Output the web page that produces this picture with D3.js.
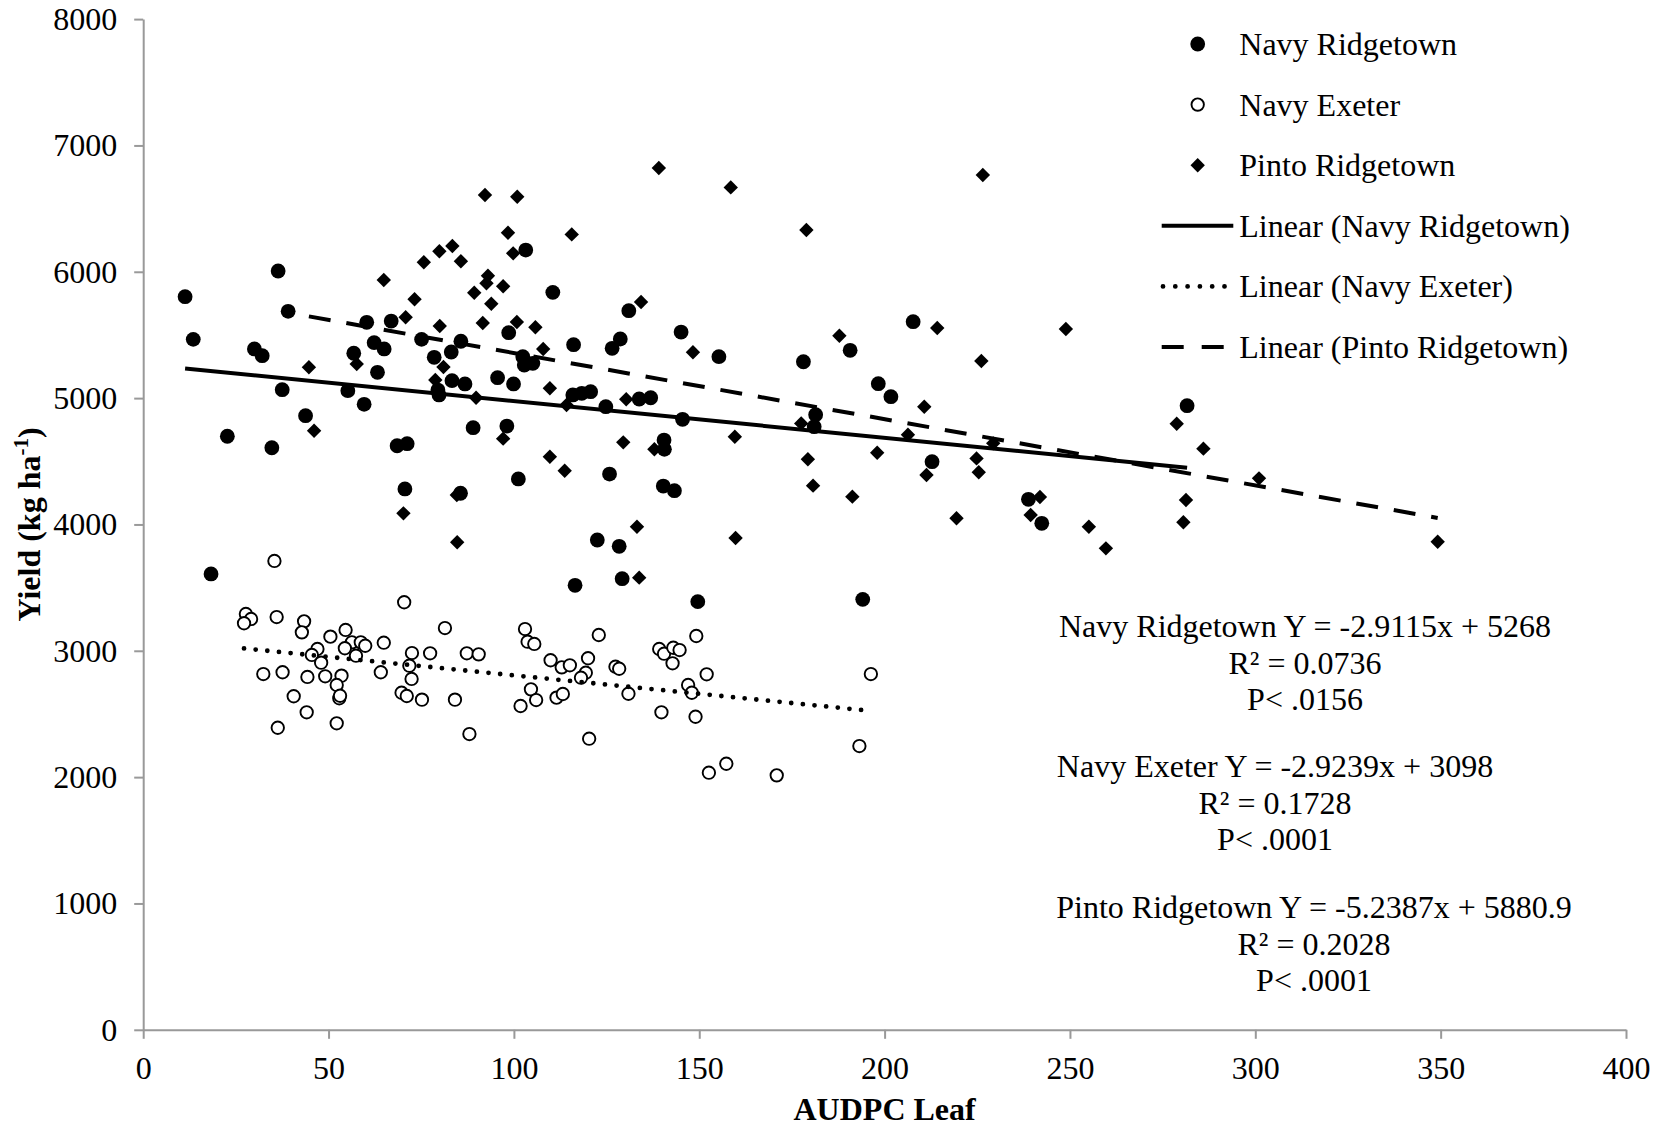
<!DOCTYPE html>
<html><head><meta charset="utf-8">
<script src="https://cdn.jsdelivr.net/npm/d3@7"></script>
<style>body{margin:0;background:#fff}svg{display:block}</style>
</head><body>
<svg id="chart" width="1663" height="1128"></svg>
<script>
// ---------- DATA ----------
const navyRidgetown = [
[11.3,5803],[13.5,5465],[36.4,6006],[39.1,5687],[30.0,5389],[32.1,5336],[37.5,5067],[22.7,4698],[34.7,4607],[43.8,4861],
[55.2,5059],[59.6,4951],[56.8,5355],[63.2,5204],[60.3,5600],[66.9,5610],[62.3,5439],[65.0,5389],[68.5,4623],[71.2,4639],
[75.1,5465],[78.5,5323],[83.1,5365],[85.7,5450],[79.5,5064],[79.8,5025],[83.3,5138],[86.8,5112],[89.0,4766],[95.6,5162],
[99.9,5112],[98.1,4779],[98.6,5518],[103.2,6172],[102.4,5328],[105.1,5275],[102.8,5262],[110.5,5837],
[70.6,4281],[85.6,4247],[101.2,4360],[18.3,3608],
[131.0,5692],[116.1,5423],[126.5,5394],[128.7,5468],[145.1,5523],[155.3,5328],[207.7,5605],[178.1,5288],[190.7,5378],
[198.3,5114],[201.7,5011],[115.9,5025],[118.3,5038],[120.7,5051],[124.8,4932],[133.8,4993],[136.9,5003],[145.5,4832],
[181.4,4869],[181.0,4774],[212.8,4497],[140.5,4668],[140.6,4595],
[125.8,4399],[140.3,4304],[143.3,4267],[122.5,3877],[128.4,3827],[116.5,3518],[129.2,3571],[149.6,3389],[194.1,3407],
[281.6,4940],[238.8,4199],[242.4,4009]
];
const navyExeter = [
[35.4,3711],[70.4,3384],[27.7,3291],[29.1,3252],[27.2,3218],[36.0,3267],[43.4,3233],[42.8,3146],[50.5,3112],[54.6,3165],
[47.0,3014],[45.5,2967],[56.3,3067],[54.4,3020],[58.7,3067],[59.9,3040],[57.4,2961],[64.9,3064],[48.0,2906],[32.4,2816],
[37.6,2830],[44.3,2793],[49.1,2798],[53.5,2803],[52.2,2729],[52.9,2624],[53.1,2644],[40.6,2640],[44.1,2513],[36.3,2391],
[52.2,2426],[64.1,2830],[72.5,2982],[71.8,2882],[72.4,2777],[69.7,2668],[71.1,2642],[75.2,2613],[77.4,2980],[81.4,3180],
[84.1,2613],[88.0,2341],[87.3,2980],[90.5,2972],[103.0,3172],[103.7,3072],[105.5,3054],[109.9,2925],[104.6,2695],
[106.0,2610],[101.8,2563],[111.5,2629],
[122.9,3125],[149.2,3117],[139.2,3014],[140.5,2977],[143.0,3024],[144.7,3006],[142.8,2901],[112.9,2869],[115.1,2885],
[120.0,2941],[119.4,2826],[118.1,2787],[127.4,2874],[128.4,2858],[152.0,2814],[196.3,2816],[130.9,2660],[147.0,2729],
[148.0,2668],[113.2,2658],[139.8,2513],[149.0,2478],[120.3,2304],[193.2,2246],[152.6,2035],[157.3,2106],[170.9,2014]
];
const pintoRidgetown = [
[92.2,6608],[100.9,6594],[98.4,6309],[99.8,6146],[83.4,6204],[79.9,6162],[75.7,6075],[85.7,6083],[64.9,5935],[93.0,5969],
[92.6,5909],[97.1,5885],[89.3,5834],[93.9,5747],[73.2,5782],[70.8,5640],[91.6,5595],[100.8,5603],[105.8,5561],[80.0,5571],
[107.9,5389],[44.7,5244],[57.6,5270],[81.0,5246],[78.8,5143],[89.8,5003],[109.7,5078],[46.1,4742],[97.1,4679],[109.7,4536],
[70.2,4088],[84.7,3859],[84.6,4233],
[139.1,6821],[158.5,6668],[115.6,6296],[178.9,6331],[134.3,5761],[214.2,5555],[187.8,5494],[148.3,5363],[130.3,4991],
[114.2,4945],[177.5,4800],[210.7,4932],[206.3,4710],[129.5,4650],[159.6,4694],[137.9,4595],[113.7,4425],[179.3,4516],[198.0,4568],
[180.7,4307],[191.3,4220],[211.3,4392],[219.4,4049],[133.2,3982],[159.8,3893],[133.8,3579],
[226.5,6766],[248.9,5547],[226.1,5294],[278.8,4797],[286.0,4600],[224.8,4523],[225.4,4413],[301.0,4365],[241.9,4217],
[239.4,4075],[255.1,3982],[259.7,3811],[281.3,4193],[280.6,4017],[349.2,3863],[229.3,4642]
];
const seriesNames = ["Navy Ridgetown", "Navy Exeter", "Pinto Ridgetown"];
const trendNames = ["Linear (Navy Ridgetown)", "Linear (Navy Exeter)", "Linear (Pinto Ridgetown)"];
const trendSlopes = [-2.9115, -2.9239, -5.2387];
const trendIntercepts = [5268, 3098, 5880.9];
const xTicks = [0, 50, 100, 150, 200, 250, 300, 350, 400];
const yTicks = [0, 1000, 2000, 3000, 4000, 5000, 6000, 7000, 8000];
const annotationBlocks = [
  ["Navy Ridgetown Y = -2.9115x + 5268", "R\u00B2 = 0.0736", "P< .0156"],
  ["Navy Exeter Y = -2.9239x + 3098", "R\u00B2 = 0.1728", "P< .0001"],
  ["Pinto Ridgetown Y = -5.2387x + 5880.9", "R\u00B2 = 0.2028", "P< .0001"]
];
const xTitle = "AUDPC Leaf";

// ---------- LAYOUT ----------
const FONT = "'Liberation Serif', 'Times New Roman', serif";
const FS = 32;
const AXIS_COLOR = "#999999";
const svg = d3.select("#chart");
const x = d3.scaleLinear().domain([0, 400]).range([143.2, 1626]);
const y = d3.scaleLinear().domain([0, 8000]).range([1029.8, 19.1]);

// axes
const gx = svg.append("g").attr("transform", `translate(0,${y(0)})`)
  .call(d3.axisBottom(x).tickValues(xTicks).tickSize(9).tickSizeOuter(0).tickPadding(17).tickFormat(d3.format("d")));
const gy = svg.append("g").attr("transform", `translate(${x(0)},0)`)
  .call(d3.axisLeft(y).tickValues(yTicks).tickSize(9).tickSizeOuter(0).tickPadding(17).tickFormat(d3.format("d")));
[gx, gy].forEach(g => {
  g.attr("font-family", FONT).attr("font-size", FS);
  g.select(".domain").attr("stroke", AXIS_COLOR).attr("stroke-width", 2);
  g.selectAll(".tick line").attr("stroke", AXIS_COLOR).attr("stroke-width", 2);
  g.selectAll(".tick text").attr("fill", "#000");
});

// axis titles
svg.append("text").attr("x", (x(0) + x(400)) / 2).attr("y", 1120)
  .attr("text-anchor", "middle").attr("font-family", FONT).attr("font-size", FS)
  .attr("font-weight", "bold").text(xTitle);
const yt = svg.append("text")
  .attr("transform", `translate(40,${(y(0) + y(8000)) / 2}) rotate(-90)`)
  .attr("text-anchor", "middle").attr("font-family", FONT).attr("font-size", FS)
  .attr("font-weight", "bold");
yt.append("tspan").text("Yield (kg ha");
yt.append("tspan").attr("font-size", 21).attr("dy", -12).text("-1");
yt.append("tspan").attr("dy", 12).text(")");

// markers
const diamond = (cx, cy, r) => `M${cx},${cy - r}L${cx + r},${cy}L${cx},${cy + r}L${cx - r},${cy}Z`;
function drawMarker(g, type, cx, cy) {
  if (type === 0) g.append("circle").attr("cx", cx).attr("cy", cy).attr("r", 7.4).attr("fill", "#000");
  else if (type === 1) g.append("circle").attr("cx", cx).attr("cy", cy).attr("r", 6.2)
    .attr("fill", "#fff").attr("stroke", "#000").attr("stroke-width", 1.9);
  else g.append("path").attr("d", diamond(cx, cy, 7.2)).attr("fill", "#000");
}
const allSeries = [navyRidgetown, navyExeter, pintoRidgetown];
const pts = svg.append("g");
allSeries.forEach((data, i) => {
  const g = pts.append("g");
  data.forEach(d => drawMarker(g, i, x(d[0]), y(d[1])));
});

// trend lines
const lineStyles = [
  {dash: null, cap: "butt", w: 4},
  {dash: "0,11.7", cap: "round", w: 4.8},
  {dash: "22,16", cap: "butt", w: 4}
];
const line = d3.line().x(d => x(d[0])).y(d => y(d[1]));
allSeries.forEach((data, i) => {
  const ext = d3.extent(data, d => d[0]);
  const seg = ext.map(v => [v, trendSlopes[i] * v + trendIntercepts[i]]);
  const p = svg.append("path").attr("d", line(seg)).attr("fill", "none")
    .attr("stroke", "#000").attr("stroke-width", lineStyles[i].w).attr("stroke-linecap", lineStyles[i].cap);
  if (lineStyles[i].dash) p.attr("stroke-dasharray", lineStyles[i].dash);
});

// legend
const legend = svg.append("g").attr("font-family", FONT).attr("font-size", FS);
const legendLabels = seriesNames.concat(trendNames);
legendLabels.forEach((lab, i) => {
  const cy = 44 + i * 60.6;
  if (i < 3) drawMarker(legend, i, 1197.7, cy);
  else {
    const st = lineStyles[i - 3];
    const p = legend.append("line").attr("x1", i === 4 ? 1163 : 1161.7).attr("x2", 1233.3).attr("y1", cy).attr("y2", cy)
      .attr("stroke", "#000").attr("stroke-width", st.w).attr("stroke-linecap", st.cap);
    if (st.dash) p.attr("stroke-dasharray", i === 4 ? "0,12.3" : "22,18");
  }
  legend.append("text").attr("x", 1239.3).attr("y", cy + 11).text(lab);
});

// annotations
const annCenters = [1305, 1275, 1314];
const annBase = [637, 777, 918];
const ann = svg.append("g").attr("font-family", FONT).attr("font-size", FS).attr("text-anchor", "middle");
annotationBlocks.forEach((blk, b) => {
  blk.forEach((t, j) => {
    ann.append("text").attr("x", annCenters[b]).attr("y", annBase[b] + j * 36.5).text(t);
  });
});
</script>
</body></html>
